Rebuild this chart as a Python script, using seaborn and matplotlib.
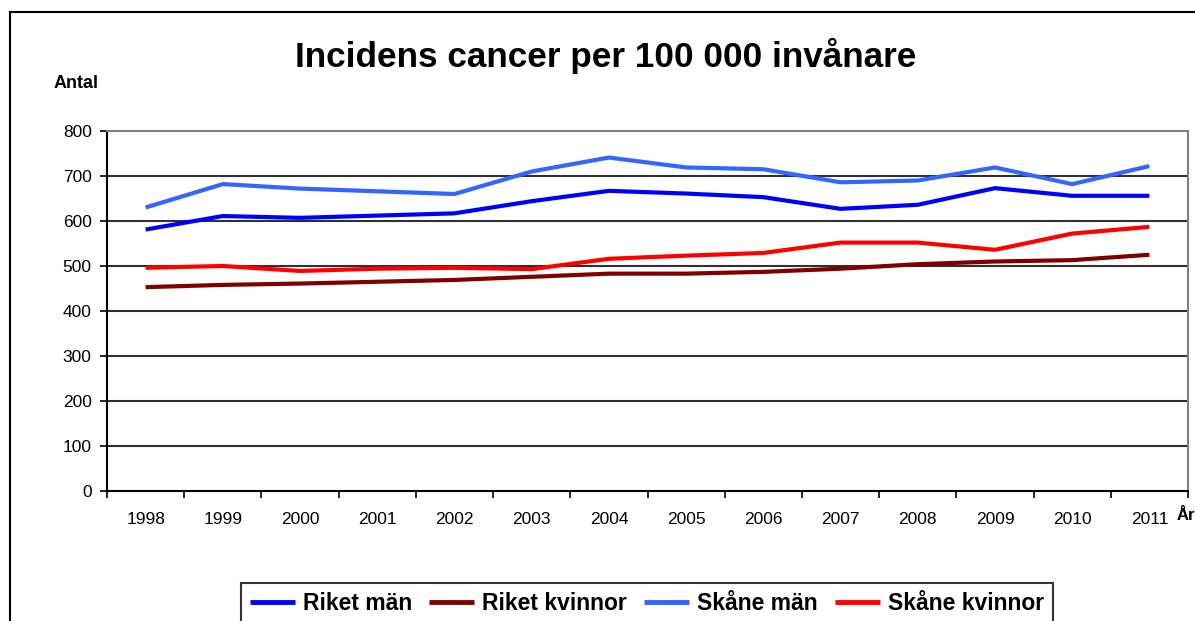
import matplotlib
matplotlib.use("Agg")
import matplotlib.pyplot as plt
from matplotlib.patches import Rectangle
import seaborn as sns
import pandas as pd
import numpy as np

years = [1998, 1999, 2000, 2001, 2002, 2003, 2004, 2005, 2006, 2007, 2008, 2009, 2010, 2011]
riket_man = [581, 611, 607, 612, 617, 644, 667, 661, 653, 627, 636, 673, 656, 656]
riket_kvinnor = [453, 458, 461, 465, 469, 476, 483, 483, 487, 494, 504, 510, 513, 525]
skane_man = [630, 682, 672, 666, 660, 710, 741, 719, 715, 686, 690, 719, 682, 722]
skane_kvinnor = [496, 500, 489, 494, 496, 493, 516, 523, 529, 552, 552, 536, 572, 587]
series_names = ["Riket män", "Riket kvinnor", "Skåne män", "Skåne kvinnor"]
colors = ["#0000FF", "#800000", "#3366FF", "#FF0000"]
y_ticks = [0, 100, 200, 300, 400, 500, 600, 700, 800]

sns.set_theme(style="white")
plt.rcParams["font.family"] = ["Liberation Sans", "DejaVu Sans"]
plt.rcParams["text.color"] = "black"
plt.rcParams["axes.labelcolor"] = "black"
plt.rcParams["xtick.color"] = "black"
plt.rcParams["ytick.color"] = "black"

df = pd.DataFrame({
    "År": years * 4,
    "Antal": riket_man + riket_kvinnor + skane_man + skane_kvinnor,
    "Serie": [s for s in series_names for _ in years],
})

fig = plt.figure(figsize=(11.95, 6.21), dpi=100)
ax = fig.add_axes([107 / 1195, 1 - 491 / 621, (1188 - 107) / 1195, (491 - 131) / 621])

sns.lineplot(data=df, x="År", y="Antal", hue="Serie", hue_order=series_names,
             palette=dict(zip(series_names, colors)), linewidth=3, ax=ax,
             legend=False, solid_capstyle="butt")

ax.set_xlim(1997.5, 2011.5)
ax.set_ylim(0, 800)
ax.set_xlabel("")
ax.set_ylabel("")
ax.set_xticks(years)
ax.set_xticklabels([str(y) for y in years], fontsize=12.5, color="black")
ax.set_xticks(np.arange(1997.5, 2012, 1.0), minor=True)
ax.tick_params(axis="x", which="major", length=0, pad=15)
ax.tick_params(axis="x", which="minor", length=5, width=1.2, direction="out", color="black", bottom=True)
ax.set_yticks(y_ticks)
ax.set_yticklabels([str(v) for v in y_ticks], fontsize=12.5, color="black")
ax.tick_params(axis="y", length=5, width=1.2, direction="out", color="black", left=True, pad=6)

for v in y_ticks[1:-1]:
    ax.axhline(v, color="#303030", lw=1.5, zorder=0.5)

for s in ["left", "bottom"]:
    ax.spines[s].set_color("black")
    ax.spines[s].set_linewidth(1.5)
for s in ["top", "right"]:
    ax.spines[s].set_color("#808080")
    ax.spines[s].set_linewidth(1.5)

fig.text(606 / 1195, 1 - 56 / 621, "Incidens cancer per 100 000 invånare",
         fontsize=25.3, fontweight="bold", ha="center", va="center", color="black")
fig.text(54 / 1195, 1 - 84 / 621, "Antal", fontsize=13, fontweight="bold",
         ha="left", va="center", color="black")
fig.text(1177 / 1195, 1 - 515 / 621, "År", fontsize=12, fontweight="bold",
         ha="left", va="center", color="black")

handles = [plt.Line2D([], [], color=c, lw=3.5, solid_capstyle="butt") for c in colors]
leg = fig.legend(handles, series_names, loc="upper center",
                 bbox_to_anchor=(647 / 1195, 1 - 583 / 621), ncol=4,
                 frameon=True, fancybox=False, edgecolor="black",
                 prop={"weight": "bold", "size": 16.5, "family": ["Liberation Sans", "DejaVu Sans"]},
                 handlelength=1.95, handletextpad=0.36, columnspacing=0.75,
                 borderpad=0.4, borderaxespad=0)
leg.get_frame().set_linewidth(1.5)
for t in leg.get_texts():
    t.set_color("black")

fig.add_artist(Rectangle((10 / 1195, -0.2), 1.2, 1 - 12 / 621 + 0.2,
                         transform=fig.transFigure, fill=False,
                         edgecolor="black", lw=1.5, clip_on=False))

fig.savefig("out.png", dpi=100)
